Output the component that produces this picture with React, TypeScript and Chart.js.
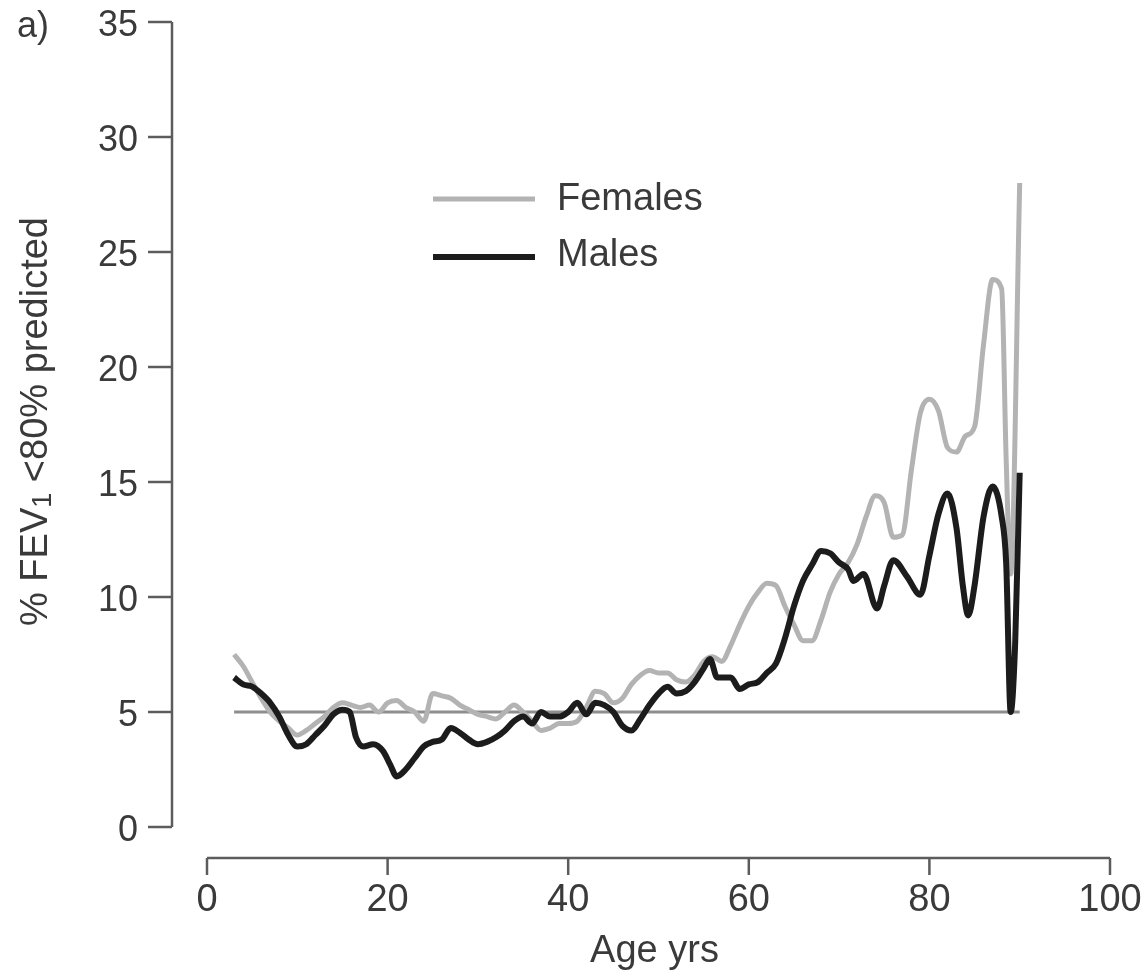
import React, { useEffect, useRef } from "react";
import { Chart, registerables } from "chart.js";

Chart.register(...registerables);

// ---- Data ----
const femaleAges = [
  3, 4, 5, 6, 7, 8, 9, 10, 11, 12, 13, 14, 15, 16, 17, 18, 19, 20, 21, 22, 23, 24, 25, 26, 27, 28, 29, 30,
  31, 32, 33, 34, 35, 36, 37, 38, 39, 40, 41, 42, 43, 44, 45, 46, 47, 48, 49, 50, 51, 52, 53, 54, 55, 56,
  57, 58, 59, 60, 61, 62, 63, 64, 65, 66, 67, 68, 69, 70, 71, 72, 73, 74, 75, 76, 77, 78, 79, 80, 81, 82,
  83, 84, 85, 86, 87, 88, 88.5, 89, 90,
];
const femaleValues = [
  7.5, 7.0, 6.3, 5.6, 5.0, 4.6, 4.3, 4.0, 4.2, 4.5, 4.8, 5.2, 5.4, 5.3, 5.2, 5.3, 5.0, 5.4, 5.5, 5.2, 5.0, 4.6,
  5.8, 5.7, 5.6, 5.3, 5.1, 4.9, 4.8, 4.7, 5.0, 5.3, 5.0, 4.6, 4.2, 4.3, 4.5, 4.5, 4.6, 5.2, 5.9, 5.8, 5.4, 5.6,
  6.2, 6.6, 6.8, 6.7, 6.7, 6.4, 6.3, 6.6, 7.2, 7.4, 7.2, 7.9, 8.8, 9.6, 10.2, 10.6, 10.5, 9.6, 8.8, 8.1, 8.1,
  9.0, 10.2, 11.0, 11.5, 12.3, 13.5, 14.4, 14.1, 12.6, 12.7, 15.5, 18.0, 18.6, 18.1, 16.5, 16.3, 17.0, 17.4,
  21.0, 23.8, 23.4, 16.0, 11.0, 28.0,
];

const maleAges = [
  3, 4, 5, 6, 7, 8, 9, 10, 11, 12, 13, 14, 15, 15.8, 16.5, 17.3, 18.4, 19.5, 20.3, 21, 22, 23, 24, 25, 26, 27,
  28, 29, 30, 31, 32, 33, 34, 35, 36, 37, 38, 39, 40, 41, 42, 43, 44, 45, 46, 47, 48, 49, 50, 51, 52, 53, 54,
  55, 55.7, 56.5, 58, 59, 60, 61, 62, 63, 64, 65, 66, 67, 68, 69, 70, 71, 71.6, 72.7, 74.2, 75, 76, 77.5, 79,
  80, 81, 82, 83, 83.7, 84.3, 85, 86, 87, 88, 88.5, 89, 89.5, 90,
];
const maleValues = [
  6.5, 6.2, 6.1, 5.8, 5.4, 4.8, 4.0, 3.5, 3.6, 4.0, 4.4, 4.9, 5.1, 5.0, 3.9, 3.5, 3.6, 3.3, 2.7, 2.2, 2.5, 3.0,
  3.5, 3.7, 3.8, 4.3, 4.1, 3.8, 3.6, 3.7, 3.9, 4.2, 4.6, 4.8, 4.5, 5.0, 4.8, 4.8, 5.0, 5.4, 4.9, 5.4, 5.3, 5.0,
  4.4, 4.2, 4.7, 5.3, 5.8, 6.1, 5.8, 5.9, 6.3, 6.9, 7.3, 6.5, 6.5, 6.0, 6.2, 6.3, 6.7, 7.1, 8.2, 9.6, 10.7,
  11.4, 12.0, 11.9, 11.5, 11.2, 10.7, 11.0, 9.5, 10.5, 11.6, 10.9, 10.1, 11.8, 13.6, 14.5, 13.0, 10.5, 9.2,
  10.5, 13.5, 14.8, 13.5, 11.5, 5.0, 8.0, 15.4,
];

const refAges = [3, 90];
const refValues = [5, 5];

const xTicks = [0, 20, 40, 60, 80, 100];
const yTicks = [0, 5, 10, 15, 20, 25, 30, 35];

const seriesNames = ["Females", "Males"];
const xTitle = "Age yrs";
const panelLabel = "a)";

const FONT = '"Liberation Sans", Arial, Helvetica, sans-serif';
const FEMALE_COLOR = "#b3b3b3";
const MALE_COLOR = "#1c1c1c";
const REF_COLOR = "#8e8e8e";
const AXIS_COLOR = "#5c5c5c";
const TEXT_COLOR = "#3a3a3a";

const toPoints = (xs: number[], ys: number[]) => xs.map((x, i) => ({ x, y: ys[i] }));

const axesPlugin = {
  id: "offsetAxes",
  afterDraw(chart: any) {
    const { ctx } = chart;
    const xs = chart.scales.x;
    const ys = chart.scales.y;
    ctx.save();

    // ---- Y axis (offset to the left) ----
    const yAxisX = xs.left - 35;
    ctx.strokeStyle = AXIS_COLOR;
    ctx.lineWidth = 2.5;
    ctx.beginPath();
    ctx.moveTo(yAxisX, ys.getPixelForValue(yTicks[yTicks.length - 1]));
    ctx.lineTo(yAxisX, ys.getPixelForValue(yTicks[0]));
    ctx.stroke();
    ctx.fillStyle = TEXT_COLOR;
    ctx.font = `36px ${FONT}`;
    ctx.textAlign = "right";
    ctx.textBaseline = "alphabetic";
    yTicks.forEach((v) => {
      const py = ys.getPixelForValue(v);
      ctx.beginPath();
      ctx.moveTo(yAxisX - 24, py);
      ctx.lineTo(yAxisX, py);
      ctx.stroke();
      ctx.fillText(String(v), yAxisX - 34, py + 14);
    });

    // ---- X axis (offset below) ----
    const xAxisY = ys.bottom + 31;
    ctx.beginPath();
    ctx.moveTo(xs.getPixelForValue(xTicks[0]), xAxisY);
    ctx.lineTo(xs.getPixelForValue(xTicks[xTicks.length - 1]), xAxisY);
    ctx.stroke();
    ctx.font = `38px ${FONT}`;
    ctx.textAlign = "center";
    xTicks.forEach((v) => {
      const px = xs.getPixelForValue(v);
      ctx.beginPath();
      ctx.moveTo(px, xAxisY);
      ctx.lineTo(px, xAxisY + 17);
      ctx.stroke();
      ctx.fillText(String(v), px, xAxisY + 53);
    });

    // x title
    ctx.fillText(xTitle, (xs.left + xs.right) / 2 - 4, xAxisY + 104);

    // panel label
    ctx.textAlign = "left";
    ctx.font = `36px ${FONT}`;
    ctx.fillText(panelLabel, 17, 37);

    // ---- Y title with subscript ----
    const parts: [string, number, number][] = [
      ["% FEV", 38, 0],
      ["1", 27, 4],
      [" <80% predicted", 38, 0],
    ];
    let total = 0;
    parts.forEach(([t, s]) => {
      ctx.font = `${s}px ${FONT}`;
      total += ctx.measureText(t).width;
    });
    ctx.save();
    ctx.translate(47, (ys.top + ys.bottom) / 2 - 3);
    ctx.rotate(-Math.PI / 2);
    ctx.textAlign = "left";
    let cx = -total / 2;
    parts.forEach(([t, s, dy]) => {
      ctx.font = `${s}px ${FONT}`;
      ctx.fillText(t, cx, dy);
      cx += ctx.measureText(t).width;
    });
    ctx.restore();

    // ---- Legend ----
    const legend = [
      { name: seriesNames[0], color: FEMALE_COLOR, width: 5, ly: 199, ty: 210 },
      { name: seriesNames[1], color: MALE_COLOR, width: 6, ly: 257, ty: 266 },
    ];
    ctx.font = `38px ${FONT}`;
    ctx.textAlign = "left";
    legend.forEach((l) => {
      ctx.strokeStyle = l.color;
      ctx.lineWidth = l.width;
      ctx.lineCap = "butt";
      ctx.beginPath();
      ctx.moveTo(433, l.ly);
      ctx.lineTo(535, l.ly);
      ctx.stroke();
      ctx.fillStyle = TEXT_COLOR;
      ctx.fillText(l.name, 557, l.ty);
    });

    ctx.restore();
  },
};

export default function App() {
  const canvasRef = useRef<HTMLCanvasElement | null>(null);

  useEffect(() => {
    if (!canvasRef.current) return;
    const chart = new Chart(canvasRef.current, {
      type: "line",
      data: {
        datasets: [
          {
            label: "ref",
            data: toPoints(refAges, refValues),
            borderColor: REF_COLOR,
            borderWidth: 3,
            pointRadius: 0,
            tension: 0,
            order: 3,
          },
          {
            label: seriesNames[0],
            data: toPoints(femaleAges, femaleValues),
            borderColor: FEMALE_COLOR,
            borderWidth: 5,
            pointRadius: 0,
            cubicInterpolationMode: "monotone",
            order: 2,
          },
          {
            label: seriesNames[1],
            data: toPoints(maleAges, maleValues),
            borderColor: MALE_COLOR,
            borderWidth: 6,
            pointRadius: 0,
            cubicInterpolationMode: "monotone",
            order: 1,
          },
        ],
      },
      options: {
        responsive: false,
        animation: false,
        devicePixelRatio: 1,
        layout: { padding: { left: 207, right: 32, top: 22, bottom: 146 } },
        plugins: { legend: { display: false }, tooltip: { enabled: false } },
        elements: { line: { borderJoinStyle: "round", borderCapStyle: "butt" } },
        scales: {
          x: { type: "linear", min: 0, max: 100, display: false },
          y: { type: "linear", min: 0, max: 35, display: false },
        },
      },
      plugins: [axesPlugin],
    } as any);
    return () => chart.destroy();
  }, []);

  return (
    <div style={{ position: "absolute", left: 0, top: 0, width: 1142, height: 973, background: "#fff" }}>
      <canvas ref={canvasRef} width={1142} height={973} />
    </div>
  );
}
